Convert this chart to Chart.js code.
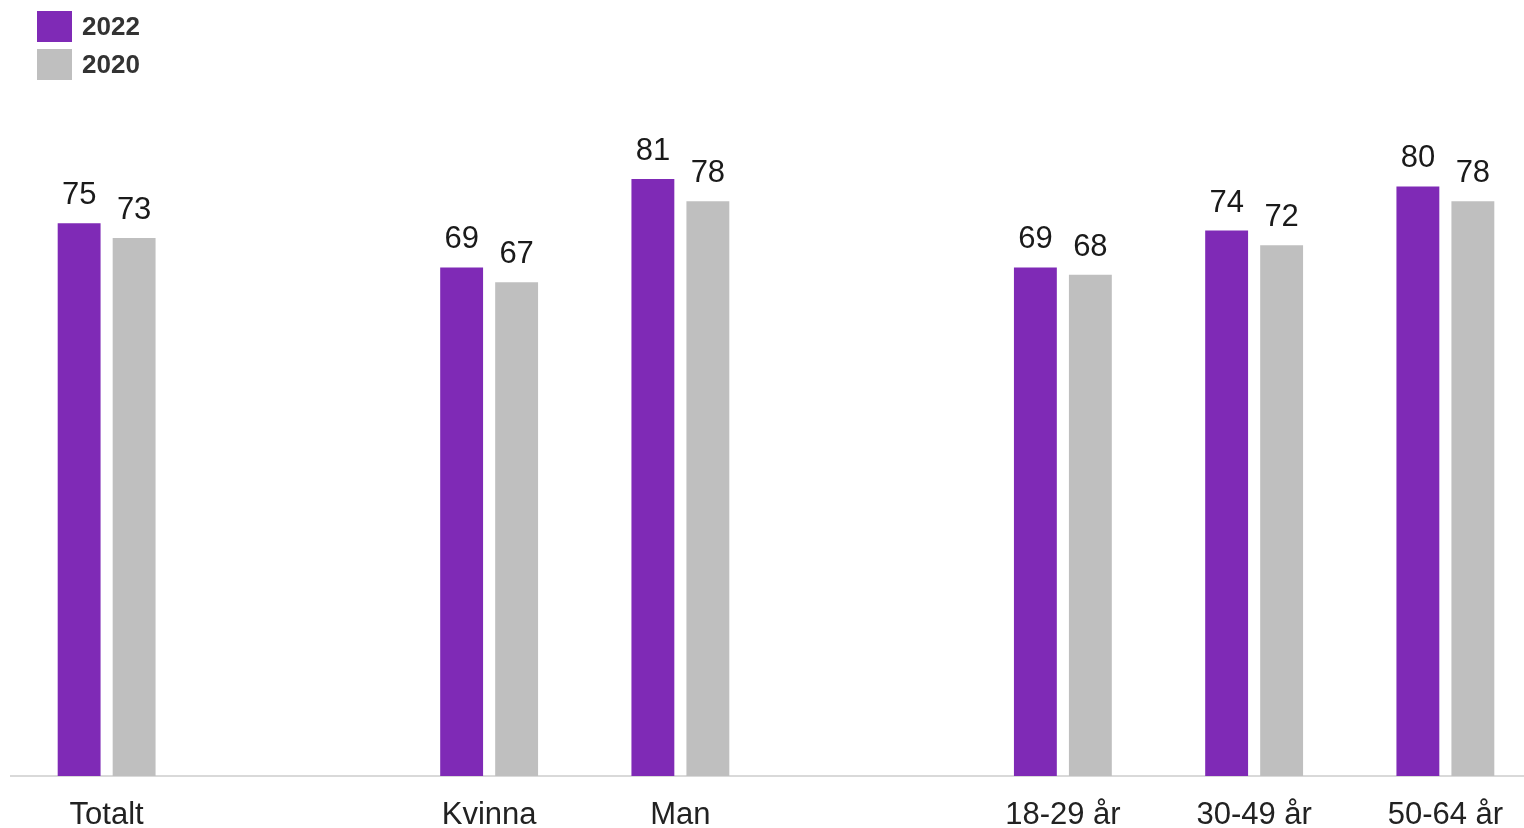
<!DOCTYPE html>
<html lang="sv">
<head>
<meta charset="utf-8">
<title>2022 vs 2020</title>
<script src="https://cdn.jsdelivr.net/npm/chart.js@4/dist/chart.umd.min.js"></script>
<style>
  html, body { margin: 0; padding: 0; background: #fff; overflow: hidden; }
  #wrap { position: relative; width: 1542px; height: 828px; }
  #legend { position: absolute; left: 37px; top: 11px; font-family: "Liberation Sans", Arial, sans-serif; }
  .lg-item { display: flex; align-items: center; height: 31px; margin-bottom: 7px; }
  .lg-box { width: 35px; height: 31px; margin-right: 10px; }
  .lg-text { font-weight: bold; font-size: 26px; line-height: 26px; color: #333; margin-top: -2px; }
</style>
</head>
<body>
<div id="wrap">
  <canvas id="chart" width="1542" height="828"></canvas>
  <div id="legend"></div>
</div>
<script>
// tomma kategorier ger mellanrummen mellan grupperna
const categories = ['Totalt', '', 'Kvinna', 'Man', '', '18-29 år', '30-49 år', '50-64 år'];
const values2022 = [75, null, 69, 81, null, 69, 74, 80];
const values2020 = [73, null, 67, 78, null, 68, 72, 78];
const seriesNames = ['2022', '2020'];
const seriesColors = ['#7f2ab6', '#bfbfbf'];

const FONT = '"Liberation Sans", Arial, sans-serif';

/* ---------- värden ovanför staplarna ---------- */
const valueLabels = {
  id: 'valueLabels',
  afterDatasetsDraw(chart) {
    const ctx = chart.ctx;
    ctx.save();
    ctx.font = '31px ' + FONT;
    ctx.fillStyle = '#1a1a1a';
    ctx.textAlign = 'center';
    ctx.textBaseline = 'alphabetic';
    chart.data.datasets.forEach((ds, i) => {
      chart.getDatasetMeta(i).data.forEach((bar, j) => {
        if (ds.data[j] == null) return;
        ctx.fillText(ds.data[j], bar.x, bar.y - 19);
      });
    });
    ctx.restore();
  }
};

const chart = new Chart(document.getElementById('chart'), {
  type: 'bar',
  data: {
    labels: categories,
    datasets: [
      { label: seriesNames[0], data: values2022, backgroundColor: seriesColors[0] },
      { label: seriesNames[1], data: values2020, backgroundColor: seriesColors[1] }
    ]
  },
  options: {
    responsive: false,
    animation: false,
    events: [],
    categoryPercentage: 0.575,
    barPercentage: 0.78,
    layout: { padding: { left: 11, right: 1, top: 39, bottom: 0 } },
    plugins: {
      legend: { display: false },
      tooltip: { enabled: false }
    },
    scales: {
      x: {
        grid: { display: false, drawTicks: false },
        border: { color: '#d9d9d9', width: 2 },
        ticks: { color: '#222', font: { family: FONT, size: 31 }, padding: 21, maxRotation: 0, autoSkip: false },
        afterFit(scale) { scale.height = 52; }
      },
      y: {
        display: false,
        min: 0,
        max: 100
      }
    }
  },
  plugins: [valueLabels]
});

/* ---------- förklaring ---------- */
document.getElementById('legend').innerHTML = seriesNames.map((name, i) => `
  <div class="lg-item">
    <div class="lg-box" style="background:${seriesColors[i]}"></div>
    <span class="lg-text">${name}</span>
  </div>`).join('');
</script>
</body>
</html>
